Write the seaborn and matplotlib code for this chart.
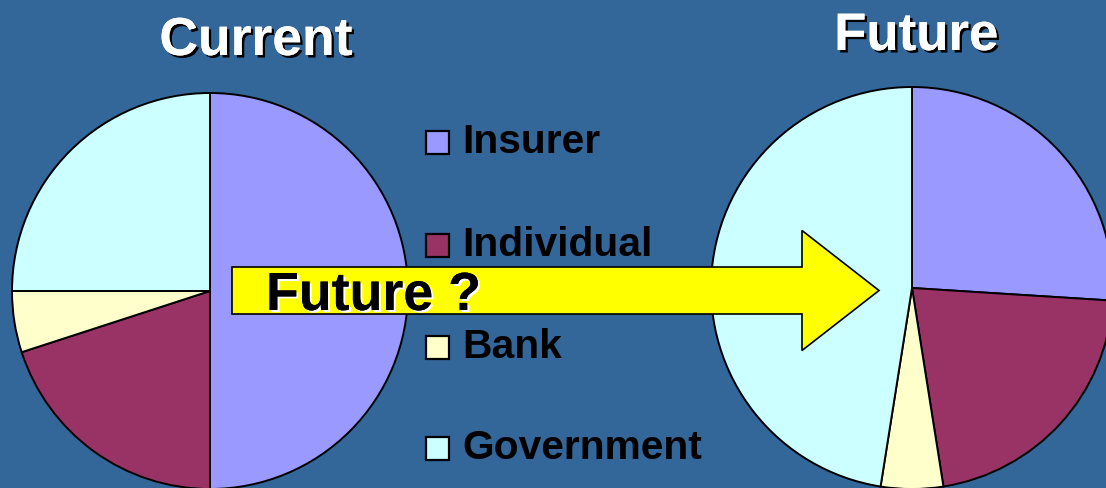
import numpy as np
import matplotlib
matplotlib.use("Agg")
import matplotlib.pyplot as plt
import matplotlib.patheffects as pe
import seaborn as sns
from matplotlib.patches import FancyArrow, Rectangle

# data (share of each party, %)
parties = ["Insurer", "Individual", "Bank", "Government"]
current_share = [50, 20, 5, 25]
future_share = [26, 21.5, 5, 47.5]
pie_titles = ["Current", "Future"]
arrow_label = "Future ?"

sns.set_style("white")
plt.rcParams['font.family'] = ['Liberation Sans', 'DejaVu Sans']

bg = "#336699"
colors = sns.color_palette(["#9999FF", "#993366", "#FFFFCC", "#CCFFFF"])

W, H = 1106, 488
fig = plt.figure(figsize=(W / 100, H / 100), dpi=100, facecolor=bg)
ax = fig.add_axes([0, 0, 1, 1])
ax.set_facecolor(bg)

wedge_style = dict(edgecolor="black", linewidth=1.4)
# pies, in pixel units (y measured from the bottom)
ax.pie(current_share, colors=colors, startangle=90, counterclock=False,
       center=(210, H - 291), radius=198, frame=True, wedgeprops=wedge_style)
ax.pie(future_share, colors=colors, startangle=90, counterclock=False,
       center=(912, H - 288), radius=201, frame=True, wedgeprops=wedge_style)


def shadow(col, off=1.8):
    return [pe.withSimplePatchShadow(offset=(off, -off), shadow_rgbFace=col, alpha=1.0),
            pe.Normal()]


# titles
ax.text(256, H - 55, pie_titles[0], color="white", fontsize=38.5, fontweight="bold",
        ha="center", va="baseline", path_effects=shadow("black"))
ax.text(916, H - 50, pie_titles[1], color="white", fontsize=38, fontweight="bold",
        ha="center", va="baseline", path_effects=shadow("black"))

# legend in the middle
baselines = [153, 256, 358, 459]
for name, col, yb in zip(parties, colors, baselines):
    ax.add_patch(Rectangle((426, H - yb - 1), 23, 23, facecolor=col,
                           edgecolor="black", linewidth=1.6, zorder=3))
    ax.text(462, H - yb, name, color="black", fontsize=29.3, fontweight="bold",
            ha="left", va="baseline", zorder=3)

# the big yellow arrow
arr = FancyArrow(232, H - 290.5, 647, 0, width=47, head_width=120, head_length=77,
                 length_includes_head=True, facecolor="#FFFF00", edgecolor="black",
                 linewidth=1.2, zorder=5)
ax.add_patch(arr)
ax.text(266, H - 310, arrow_label, color="black", fontsize=38.7, fontweight="bold",
        ha="left", va="baseline", zorder=7, path_effects=shadow("white", 1.5))

ax.set_xlim(0, W)
ax.set_ylim(0, H)
ax.set_axis_off()

fig.savefig("out.png", dpi=100, facecolor=bg)
